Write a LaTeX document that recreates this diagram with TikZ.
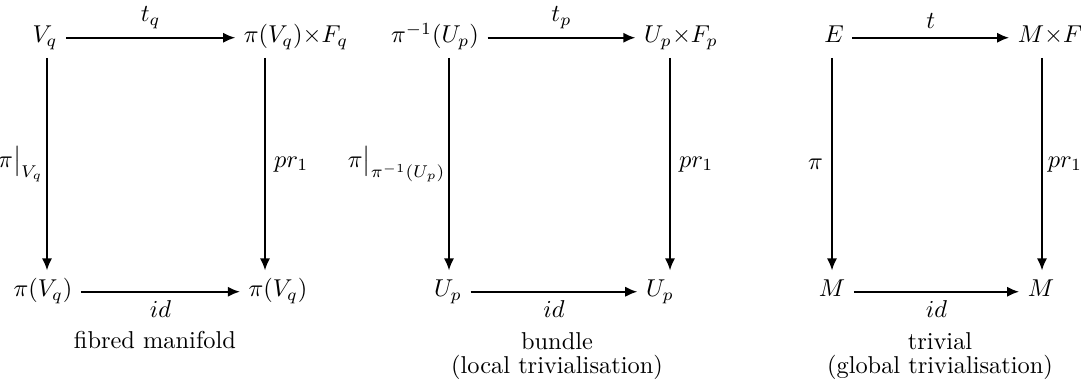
\documentclass[tikz,border=0pt]{standalone}
\usetikzlibrary{arrows.meta}
\begin{document}
\begin{tikzpicture}[x=0.41pt,y=-0.41pt,
        obj/.style={anchor=base, text height=1.7ex, text depth=0.6ex},
        map/.style={-{Latex[length=5pt,width=4.2pt]}, line width=0.8pt}]
    \useasboundingbox (0,0) rectangle (1081,385);
    % fibred manifold
    \node [obj] (vq) at (45,43) {$V_q$};
    \node [obj] (pvf) at (296,43) {$\pi(V_q){\times}F_q$};
    \node [obj] (pv1) at (43,297) {$\pi(V_q)$};
    \node [obj] (pv2) at (278,297) {$\pi(V_q)$};
    \coordinate (c1) at (47,0);
    \coordinate (c2) at (265,0);
    \draw [map] (vq.mid east) -- (vq.mid east -| pvf.west) node [midway,above] (tq) {$t_q$};
    \draw [map] (vq.south -| c1) -- (pv1.north -| c1) node [midway,left,inner sep=1pt] (rq) {$\pi\big|_{V_q}$};
    \draw [map] (pvf.south -| c2) -- (pv2.north -| c2) node [midway,right] (prq) {$pr_1$};
    \draw [map] (pv1.mid east) -- (pv2.mid west) node [midway,below] (idq) {$id$};
    \node [anchor=base] (cap1) at (155,349) {fibred manifold};
    % bundle
    \node [obj] (pu) at (435,43) {$\pi^{-1}(U_p)$};
    \node [obj] (uf) at (681,43) {$U_p{\times}F_p$};
    \node [obj] (up1) at (448,297) {$U_p$};
    \node [obj] (up2) at (660,297) {$U_p$};
    \coordinate (c3) at (449,0);
    \coordinate (c4) at (670,0);
    \draw [map] (pu.mid east) -- (pu.mid east -| uf.west) node [midway,above] (tp) {$t_p$};
    \draw [map] (pu.south -| c3) -- (up1.north -| c3) node [midway,left,inner sep=1pt] (rp) {$\pi\big|_{\pi^{-1}(U_p)}$};
    \draw [map] (uf.south -| c4) -- (up2.north -| c4) node [midway,right] (prp) {$pr_1$};
    \draw [map] (up1.mid east) -- (up2.mid west) node [midway,below] (idp) {$id$};
    \node [anchor=base] (cap2) at (557,350) {bundle};
    \node [anchor=base] (cap2b) at (557,374) {(local trivialisation)};
    % trivial
    \node [obj] (e) at (834,43) {$E$};
    \node [obj] (mf) at (1050,43) {$M{\times}F$};
    \node [obj] (m1) at (832,297) {$M$};
    \node [obj] (m2) at (1041,297) {$M$};
    \coordinate (c5) at (832,0);
    \coordinate (c6) at (1042,0);
    \draw [map] (e.mid east) -- (e.mid east -| mf.west) node [midway,above] (t) {$t$};
    \draw [map] (e.south -| c5) -- (m1.north -| c5) node [midway,left] (pi) {$\pi$};
    \draw [map] (mf.south -| c6) -- (m2.north -| c6) node [midway,right,inner sep=2pt] (pr) {$pr_1$};
    \draw [map] (m1.mid east) -- (m2.mid west) node [midway,below] (id) {$id$};
    \node [anchor=base] (cap3) at (940,350) {trivial};
    \node [anchor=base] (cap3b) at (940,374) {(global trivialisation)};
\end{tikzpicture}
\end{document}
